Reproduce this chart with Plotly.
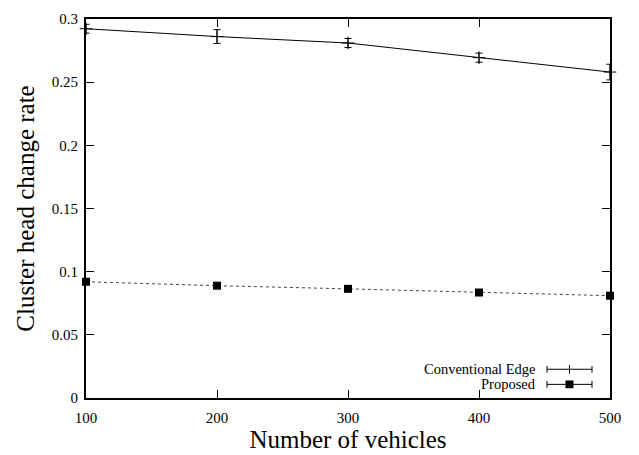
import plotly.graph_objects as go

# Measured cluster head change rate versus network size
vehicles = [100, 200, 300, 400, 500]
conventional_rate = [0.2923, 0.2861, 0.2810, 0.2694, 0.2580]
conventional_err = [0.0035, 0.0055, 0.0036, 0.0036, 0.0062]
proposed_rate = [0.0920, 0.0889, 0.0864, 0.0835, 0.0810]

x_ticks = [100, 200, 300, 400, 500]
y_ticks = [0, 0.05, 0.1, 0.15, 0.2, 0.25, 0.3]
y_tick_text = ["0", "0.05", "0.1", "0.15", "0.2", "0.25", "0.3"]

series_names = ["Conventional Edge", "Proposed"]

W, H = 639, 455
L, R, T, B = 86, 29, 11, 55
PW, PH = W - L - R, H - T - B
FONT = "Liberation Serif, Times New Roman, serif"


def px_x(p):
    return (p - L) / PW


def px_y(p):
    return (H - B - p) / PH


fig = go.Figure()

fig.add_trace(go.Scatter(
    x=vehicles, y=conventional_rate, mode="lines+markers",
    name=series_names[0],
    line=dict(color="black", width=1),
    marker=dict(symbol="cross-thin", size=9, line=dict(color="black", width=1)),
    error_y=dict(type="data", array=conventional_err, visible=True,
                 color="black", thickness=1, width=3.5),
    cliponaxis=False, showlegend=False,
))

fig.add_trace(go.Scatter(
    x=vehicles, y=proposed_rate, mode="lines+markers",
    name=series_names[1],
    line=dict(color="#444444", width=1, dash="dot"),
    marker=dict(symbol="square", size=8, color="black"),
    cliponaxis=False, showlegend=False,
))

# Key in the lower right corner, drawn in gnuplot style
shapes = []
annotations = []
rows = [(370.5, "cross"), (386, "square")]
x0, x1, xm = 547, 592, 569.5
for (py, kind), label in zip(rows, series_names):
    yp = px_y(py)
    shapes.append(dict(type="line", xref="paper", yref="paper",
                       x0=px_x(x0), x1=px_x(x1), y0=yp, y1=yp,
                       line=dict(color="black", width=1)))
    for xe in (x0, x1):
        shapes.append(dict(type="line", xref="paper", yref="paper",
                           x0=px_x(xe), x1=px_x(xe),
                           y0=px_y(py - 3.5), y1=px_y(py + 3.5),
                           line=dict(color="black", width=1)))
    if kind == "cross":
        shapes.append(dict(type="line", xref="paper", yref="paper",
                           x0=px_x(xm), x1=px_x(xm),
                           y0=px_y(py - 4.5), y1=px_y(py + 4.5),
                           line=dict(color="black", width=1)))
    else:
        shapes.append(dict(type="rect", xref="paper", yref="paper",
                           x0=px_x(xm - 4), x1=px_x(xm + 4),
                           y0=px_y(py - 4), y1=px_y(py + 4),
                           fillcolor="black", line=dict(width=0)))
    annotations.append(dict(text=label, xref="paper", yref="paper",
                            x=px_x(538), y=yp, xanchor="right", yanchor="middle",
                            showarrow=False,
                            font=dict(family=FONT, size=14.5, color="black")))

fig.update_layout(
    width=W, height=H,
    margin=dict(l=L, r=R, t=T, b=B, pad=0),
    paper_bgcolor="white", plot_bgcolor="white",
    font=dict(family=FONT, size=15, color="black"),
    shapes=shapes, annotations=annotations,
)

fig.update_xaxes(
    range=[100, 500], tickvals=x_ticks, ticks="inside", ticklen=8,
    tickwidth=1, tickcolor="black", showline=True, linecolor="black",
    linewidth=2, mirror="ticks", showgrid=False, zeroline=False,
    ticklabelstandoff=5,
    title=dict(text="Number of vehicles", font=dict(family=FONT, size=25),
               standoff=0),
)
fig.update_yaxes(
    range=[0, 0.3], tickvals=y_ticks, ticktext=y_tick_text, ticks="inside",
    ticklen=8, tickwidth=1, tickcolor="black", showline=True,
    linecolor="black", linewidth=2, mirror="ticks", showgrid=False,
    zeroline=False, ticklabelstandoff=3,
    title=dict(text="Cluster head change rate", font=dict(family=FONT, size=25),
               standoff=10),
)

fig.write_html("out.html")
